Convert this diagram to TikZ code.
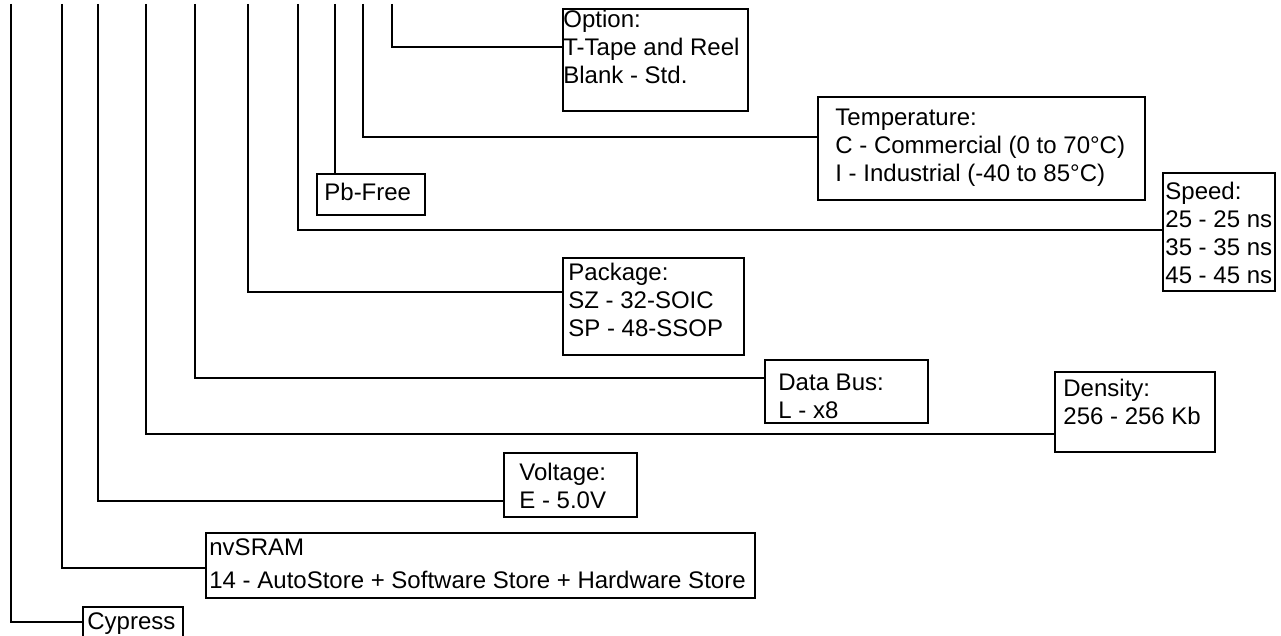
\documentclass[tikz,border=0pt]{standalone}
\usepackage{fontspec}
\setmainfont{Liberation Sans}
\usetikzlibrary{positioning}

\begin{document}
\begin{tikzpicture}[x=0.5pt,y=-0.5pt]

\tikzset{OrderBox/.style={draw, line width=1pt, inner sep=0pt, anchor=north west},
OrderText/.style={inner sep=0pt, align=left, font=\fontsize{12}{14}\selectfont},
OrderLine/.style={line width=1pt}};

\useasboundingbox (0,0) rectangle (1281,636);
\clip (0,0) rectangle (1281,636);

\begin{scope}

% tops of the code letters
\coordinate (tCypress) at (11,4);
\coordinate (tFamily) at (62,4);
\coordinate (tVoltage) at (98,4);
\coordinate (tDensity) at (146,4);
\coordinate (tBus) at (195,4);
\coordinate (tPackage) at (248,4);
\coordinate (tSpeed) at (298,4);
\coordinate (tPb) at (335,4);
\coordinate (tTemp) at (363,4);
\coordinate (tOption) at (392,4);

\node[OrderBox, minimum width=92.5pt, minimum height=51pt] (option) at (562,8) {};
\node[OrderText, below right=1pt and 0.5pt of option.north west] (optiontext) {Option:\\T-Tape and Reel\\Blank - Std.};

\node[OrderBox, minimum width=163.5pt, minimum height=51.5pt] (temp) at (817,96) {};
\node[OrderText, below right=6.5pt and 9pt of temp.north west] (temptext) {Temperature:\\C - Commercial (0 to 70°C)\\I - Industrial (-40 to 85°C)};

\node[OrderBox, minimum width=54pt, minimum height=20.5pt] (pbfree) at (316,173) {};
\node[OrderText, below right=5pt and 4pt of pbfree.north west] (pbfreetext) {Pb-Free};

\node[OrderBox, minimum width=56pt, minimum height=59pt] (speed) at (1162,172) {};
\node[OrderText, below right=5pt and 1.5pt of speed.north west] (speedtext) {Speed:\\25 - 25 ns\\35 - 35 ns\\45 - 45 ns};

\node[OrderBox, minimum width=90.5pt, minimum height=48.5pt] (package) at (562,257) {};
\node[OrderText, below right=3pt and 3pt of package.north west] (packagetext) {Package:\\SZ - 32-SOIC\\SP - 48-SSOP};

\node[OrderBox, minimum width=81.5pt, minimum height=31.5pt] (bus) at (764,359) {};
\node[OrderText, below right=7.5pt and 7pt of bus.north west] (bustext) {Data Bus:\\L - x8};

\node[OrderBox, minimum width=80pt, minimum height=40pt] (density) at (1054,371) {};
\node[OrderText, below right=4pt and 4.5pt of density.north west] (densitytext) {Density:\\256 - 256 Kb};

\node[OrderBox, minimum width=66.5pt, minimum height=32pt] (voltage) at (503,452) {};
\node[OrderText, below right=5.5pt and 8pt of voltage.north west] (voltagetext) {Voltage:\\E - 5.0V};

\node[OrderBox, minimum width=274.5pt, minimum height=32.5pt] (family) at (205,532) {};
\node[OrderText, below right=3pt and 2pt of family.north west] (familytext) {nvSRAM\\[2.5pt]14 - AutoStore + Software Store + Hardware Store};

\node[OrderBox, minimum width=50pt, minimum height=25pt] (cypress) at (82,606) {};
\node[OrderText, below right=3pt and 2.5pt of cypress.north west] (cypresstext) {Cypress};

% connectors
\draw[OrderLine] (tOption) |- ([shift={(0,39)}]option.north west);
\draw[OrderLine] (tTemp) |- ([shift={(0,41)}]temp.north west);
\draw[OrderLine] (tPb) -- (tPb |- pbfree.north);
\draw[OrderLine] (tSpeed) |- ([shift={(0,58)}]speed.north west);
\draw[OrderLine] (tPackage) |- ([shift={(0,35)}]package.north west);
\draw[OrderLine] (tBus) |- ([shift={(0,19)}]bus.north west);
\draw[OrderLine] (tDensity) |- ([shift={(0,63)}]density.north west);
\draw[OrderLine] (tVoltage) |- ([shift={(0,49)}]voltage.north west);
\draw[OrderLine] (tFamily) |- ([shift={(0,36)}]family.north west);
\draw[OrderLine] (tCypress) |- ([shift={(0,16)}]cypress.north west);

\end{scope}

\end{tikzpicture}
\end{document}
